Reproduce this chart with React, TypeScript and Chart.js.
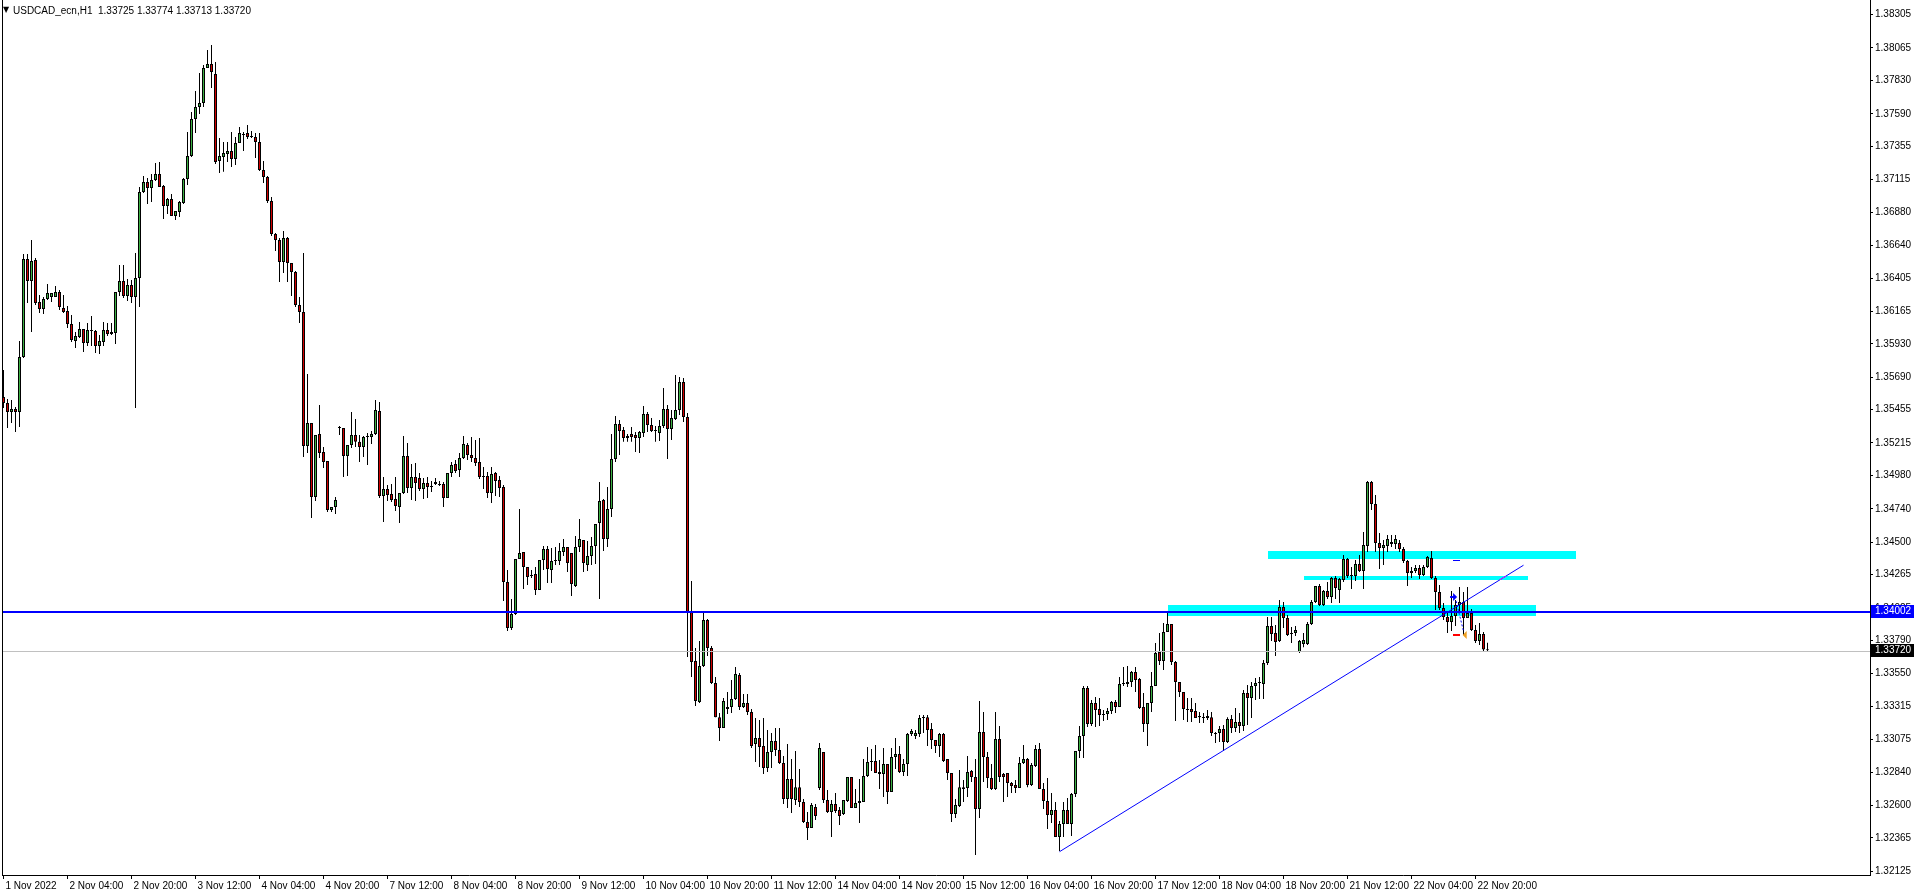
import React, { useEffect, useRef } from 'react';
import { Chart, registerables } from 'chart.js';

Chart.register(...registerables);

// ---------- data (USDCAD_ecn, H1) ----------
const SYMBOL = 'USDCAD_ecn,H1';

const OPEN = [
  1.35546,1.35503,1.35439,1.35460,1.35439,1.35835,1.36542,1.36384,1.36535,1.36233,1.36182,1.36254,
  1.36268,1.36268,1.36305,1.36189,1.36167,1.36073,1.35951,1.35979,1.36037,1.35936,1.36023,1.36023,
  1.35915,1.35944,1.36030,1.36016,1.36008,1.36305,1.36384,1.36276,1.36355,1.36268,1.36405,1.37026,
  1.37098,1.37054,1.37112,1.37156,1.37069,1.36925,1.36975,1.36853,1.36882,1.36946,1.37120,1.37286,
  1.37552,1.37639,1.37668,1.37920,1.37949,1.37877,1.37250,1.37278,1.37300,1.37322,1.37264,1.37379,
  1.37437,1.37451,1.37430,1.37422,1.37387,1.37185,1.37134,1.36961,1.36723,1.36680,1.36521,1.36694,
  1.36514,1.36449,1.36211,1.36160,1.35194,1.35359,1.34825,1.35280,1.35150,1.35085,1.34731,1.34753,
  1.35323,1.35323,1.35121,1.35201,1.35273,1.35223,1.35186,1.35258,1.35258,1.35280,1.35446,1.34833,
  1.34883,1.34847,1.34811,1.34753,1.34854,1.35121,1.34890,1.34969,1.34962,1.34883,1.34926,1.34905,
  1.34934,1.34919,1.34919,1.34818,1.34998,1.35063,1.35020,1.35106,1.35201,1.35128,1.35106,1.35078,
  1.34969,1.34977,1.34854,1.34998,1.34948,1.34897,1.34212,1.33880,1.33981,1.34378,1.34429,1.34320,
  1.34263,1.34270,1.34154,1.34371,1.34450,1.34299,1.34364,1.34364,1.34429,1.34465,1.34421,1.34183,
  1.34465,1.34515,1.34335,1.34400,1.34472,1.34637,1.34804,1.34522,1.34739,1.35099,1.35352,1.35309,
  1.35251,1.35280,1.35273,1.35251,1.35287,1.35424,1.35345,1.35309,1.35287,1.35338,1.35460,1.35316,
  1.35388,1.35453,1.35655,1.35402,1.33996,1.33642,1.33347,1.33606,1.33938,1.33735,1.33483,1.33237,
  1.33158,1.33295,1.33310,1.33368,1.33541,1.33310,1.33339,1.33274,1.33043,1.33086,1.33029,1.32870,
  1.32986,1.33065,1.33000,1.32906,1.32646,1.32791,1.32639,1.32732,1.32625,1.32481,1.32437,1.32588,
  1.32725,1.32986,1.32639,1.32553,1.32610,1.32567,1.32538,1.32632,1.32805,1.32581,1.32617,1.32625,
  1.32812,1.32921,1.32921,1.32842,1.32827,1.32899,1.32696,1.32950,1.32971,1.32842,1.32899,1.33115,
  1.33101,1.33115,1.33230,1.33237,1.33151,1.33072,1.33029,1.33115,1.32935,1.32834,1.32538,1.32596,
  1.32718,1.32725,1.32849,1.32805,1.32574,1.33130,1.32950,1.32798,1.32718,1.33079,1.32827,1.32834,
  1.32761,1.32747,1.32725,1.32906,1.32935,1.32747,1.32885,1.33007,1.32718,1.32632,1.32531,1.32567,
  1.32372,1.32466,1.32567,1.32466,1.32682,1.32993,1.33101,1.33447,1.33187,1.33339,1.33295,1.33259,
  1.33259,1.33281,1.33347,1.33310,1.33476,1.33476,1.33490,1.33563,1.33512,1.33310,1.33187,1.33339,
  1.33462,1.33707,1.33642,1.33852,1.33909,1.33635,1.33490,1.33419,1.33295,1.33295,1.33281,1.33237,
  1.33230,1.33230,1.33237,1.33122,1.33122,1.33151,1.33058,1.33223,1.33158,1.33202,1.33173,1.33411,
  1.33375,1.33462,1.33483,1.33476,1.33627,1.33895,1.33844,1.33786,1.34031,1.33952,1.33837,1.33844,
  1.33707,1.33764,1.33764,1.33909,1.34068,1.34183,1.34046,1.34147,1.34104,1.34241,1.34154,1.34226,
  1.34378,1.34256,1.34256,1.34342,1.34292,1.34472,1.34934,1.34775,1.34493,1.34457,1.34472,1.34501,
  1.34486,1.34493,1.34450,1.34364,1.34277,1.34292,1.34313,1.34263,1.34320,1.34385,1.34241,1.34140,
  1.34024,1.33960,1.33923,1.33967,1.34046,1.34068,1.33952,1.33988,1.33866,1.33786,1.33837,1.33725,
];

const HIGH = [
  1.35742,1.35532,1.35525,1.35474,1.35951,1.36578,1.36578,1.36680,1.36549,1.36283,1.36268,1.36362,
  1.36297,1.36348,1.36319,1.36283,1.36204,1.36138,1.36016,1.36088,1.36037,1.36080,1.36131,1.36030,
  1.35994,1.36088,1.36080,1.36080,1.36305,1.36499,1.36499,1.36398,1.36391,1.36585,1.37061,1.37142,
  1.37127,1.37156,1.37235,1.37243,1.37076,1.36982,1.37011,1.36889,1.36961,1.37127,1.37459,1.37603,
  1.37755,1.37884,1.37942,1.38050,1.38086,1.37964,1.37415,1.37387,1.37387,1.37459,1.37422,1.37494,
  1.37459,1.37509,1.37466,1.37451,1.37451,1.37250,1.37142,1.36989,1.36730,1.36694,1.36745,1.36701,
  1.36514,1.36456,1.36268,1.36585,1.35713,1.35359,1.35273,1.35489,1.35186,1.35085,1.34753,1.34825,
  1.35338,1.35323,1.35201,1.35439,1.35388,1.35273,1.35266,1.35287,1.35302,1.35525,1.35511,1.34969,
  1.34912,1.34919,1.34969,1.34854,1.35266,1.35215,1.35063,1.35070,1.34998,1.34962,1.34969,1.34941,
  1.34962,1.34941,1.34934,1.34998,1.35078,1.35092,1.35142,1.35266,1.35215,1.35258,1.35237,1.35251,
  1.35041,1.35006,1.35041,1.35006,1.34977,1.34912,1.34299,1.34089,1.34378,1.34739,1.34429,1.34320,
  1.34299,1.34320,1.34371,1.34472,1.34472,1.34457,1.34465,1.34493,1.34522,1.34465,1.34421,1.34544,
  1.34666,1.34515,1.34508,1.34536,1.34630,1.34934,1.34811,1.34897,1.35280,1.35410,1.35381,1.35330,
  1.35280,1.35330,1.35295,1.35302,1.35482,1.35439,1.35395,1.35338,1.35381,1.35611,1.35489,1.35453,
  1.35706,1.35691,1.35684,1.35431,1.34219,1.33735,1.33786,1.33988,1.33945,1.33750,1.33526,1.33266,
  1.33375,1.33419,1.33505,1.33598,1.33555,1.33404,1.33404,1.33295,1.33230,1.33216,1.33230,1.33144,
  1.33122,1.33158,1.33158,1.32957,1.33043,1.32935,1.32993,1.32863,1.32646,1.32553,1.32617,1.32610,
  1.33050,1.32986,1.32711,1.32639,1.32689,1.32588,1.32639,1.32805,1.32805,1.32718,1.32791,1.32935,
  1.33022,1.33007,1.33036,1.32928,1.33014,1.32899,1.33014,1.33086,1.33029,1.32935,1.33122,1.33151,
  1.33144,1.33252,1.33252,1.33252,1.33194,1.33072,1.33122,1.33122,1.32935,1.32834,1.32646,1.32856,
  1.32783,1.32957,1.32856,1.32935,1.33354,1.33274,1.32986,1.32899,1.33274,1.33173,1.32834,1.32834,
  1.32769,1.32783,1.32950,1.33036,1.32942,1.32906,1.33036,1.33050,1.32761,1.32798,1.32689,1.32625,
  1.32488,1.32625,1.32653,1.32689,1.32993,1.33173,1.33462,1.33462,1.33361,1.33382,1.33375,1.33288,
  1.33303,1.33354,1.33361,1.33526,1.33598,1.33606,1.33570,1.33598,1.33519,1.33411,1.33339,1.33563,
  1.33771,1.33844,1.33916,1.33988,1.33909,1.33642,1.33490,1.33419,1.33375,1.33375,1.33339,1.33274,
  1.33266,1.33288,1.33274,1.33130,1.33173,1.33180,1.33237,1.33252,1.33303,1.33266,1.33433,1.33469,
  1.33490,1.33519,1.33526,1.33649,1.33960,1.33960,1.33902,1.34082,1.34068,1.33974,1.33887,1.33895,
  1.33793,1.33844,1.33923,1.34082,1.34183,1.34197,1.34154,1.34212,1.34248,1.34256,1.34241,1.34407,
  1.34385,1.34320,1.34371,1.34407,1.34573,1.34941,1.34941,1.34840,1.34566,1.34515,1.34551,1.34551,
  1.34551,1.34515,1.34465,1.34371,1.34320,1.34335,1.34335,1.34335,1.34400,1.34436,1.34256,1.34190,
  1.34060,1.33996,1.34147,1.34082,1.34176,1.34140,1.34176,1.34017,1.33902,1.33916,1.33852,1.33774,
];

const LOW = [
  1.35467,1.35323,1.35359,1.35295,1.35330,1.35828,1.36225,1.36016,1.36211,1.36152,1.36145,1.36247,
  1.36233,1.36268,1.36174,1.36152,1.36044,1.35944,1.35900,1.35972,1.35872,1.35915,1.35915,1.35864,
  1.35857,1.35915,1.35987,1.35994,1.35929,1.36276,1.36261,1.36240,1.36225,1.35467,1.36196,1.37018,
  1.36939,1.36954,1.37105,1.37061,1.36831,1.36867,1.36853,1.36824,1.36845,1.36939,1.37076,1.37278,
  1.37451,1.37588,1.37639,1.37920,1.37776,1.37228,1.37163,1.37171,1.37243,1.37206,1.37221,1.37379,
  1.37322,1.37408,1.37415,1.37271,1.37178,1.37090,1.36946,1.36709,1.36600,1.36377,1.36441,1.36377,
  1.36276,1.36196,1.36080,1.35113,1.35142,1.34673,1.34797,1.35106,1.35034,1.34717,1.34717,1.34702,
  1.35273,1.34969,1.34977,1.35179,1.35186,1.35078,1.35113,1.35056,1.35208,1.35273,1.34818,1.34645,
  1.34797,1.34790,1.34724,1.34637,1.34847,1.34854,1.34804,1.34797,1.34869,1.34811,1.34818,1.34862,
  1.34912,1.34905,1.34753,1.34818,1.34969,1.34998,1.34969,1.35099,1.35092,1.35078,1.35049,1.34955,
  1.34883,1.34818,1.34782,1.34833,1.34825,1.34075,1.33859,1.33866,1.33974,1.34378,1.34161,1.34190,
  1.34241,1.34118,1.34154,1.34299,1.34204,1.34204,1.34335,1.34335,1.34400,1.34285,1.34111,1.34176,
  1.34429,1.34285,1.34292,1.34335,1.34342,1.34089,1.34436,1.34465,1.34681,1.35078,1.35128,1.35223,
  1.35223,1.35223,1.35150,1.35142,1.35258,1.35295,1.35295,1.35223,1.35230,1.35323,1.35099,1.35237,
  1.35381,1.35417,1.35367,1.33670,1.33526,1.33318,1.33339,1.33598,1.33678,1.33476,1.33237,1.33065,
  1.33158,1.33259,1.33266,1.33361,1.33288,1.33303,1.33252,1.33014,1.32914,1.32878,1.32827,1.32842,
  1.32870,1.32957,1.32899,1.32610,1.32581,1.32545,1.32603,1.32588,1.32473,1.32351,1.32437,1.32495,
  1.32711,1.32617,1.32545,1.32372,1.32545,1.32459,1.32531,1.32625,1.32581,1.32581,1.32473,1.32625,
  1.32805,1.32849,1.32834,1.32718,1.32660,1.32610,1.32696,1.32863,1.32834,1.32812,1.32812,1.33101,
  1.33079,1.33093,1.33122,1.33029,1.33007,1.32978,1.32950,1.32914,1.32783,1.32481,1.32509,1.32588,
  1.32625,1.32660,1.32769,1.32242,1.32509,1.32769,1.32725,1.32711,1.32711,1.32769,1.32625,1.32660,
  1.32689,1.32689,1.32725,1.32899,1.32732,1.32740,1.32878,1.32718,1.32574,1.32430,1.32473,1.32372,
  1.32271,1.32372,1.32466,1.32380,1.32660,1.32942,1.32942,1.33166,1.33173,1.33166,1.33173,1.33209,
  1.33216,1.33259,1.33266,1.33310,1.33462,1.33454,1.33454,1.33419,1.33295,1.33130,1.33029,1.33274,
  1.33462,1.33613,1.33577,1.33852,1.33613,1.33209,1.33382,1.33216,1.33202,1.33202,1.33230,1.33194,
  1.33194,1.33216,1.33101,1.33050,1.33058,1.32993,1.33050,1.33122,1.33130,1.33122,1.33137,1.33180,
  1.33230,1.33361,1.33368,1.33368,1.33613,1.33786,1.33678,1.33779,1.33880,1.33822,1.33771,1.33822,
  1.33699,1.33742,1.33757,1.33902,1.34060,1.34039,1.34039,1.34089,1.34060,1.34089,1.34060,1.34212,
  1.34241,1.34161,1.34219,1.34285,1.34161,1.34429,1.34731,1.34429,1.34306,1.34335,1.34429,1.34465,
  1.34450,1.34429,1.34349,1.34183,1.34241,1.34277,1.34234,1.34256,1.34313,1.34234,1.34010,1.34010,
  1.33938,1.33844,1.33859,1.33895,1.33988,1.33830,1.33952,1.33859,1.33771,1.33757,1.33707,1.33713,
];

const CLOSE = [
  1.35503,1.35439,1.35460,1.35439,1.35835,1.36542,1.36384,1.36528,1.36225,1.36182,1.36254,1.36297,
  1.36297,1.36305,1.36196,1.36160,1.36073,1.35958,1.35987,1.36037,1.35936,1.36030,1.36023,1.35915,
  1.35951,1.36030,1.36001,1.36001,1.36305,1.36384,1.36276,1.36355,1.36268,1.36405,1.37026,1.37098,
  1.37054,1.37112,1.37156,1.37061,1.36925,1.36975,1.36853,1.36889,1.36954,1.37120,1.37286,1.37552,
  1.37639,1.37668,1.37920,1.37949,1.37892,1.37243,1.37286,1.37307,1.37322,1.37264,1.37379,1.37451,
  1.37444,1.37422,1.37422,1.37387,1.37185,1.37134,1.36961,1.36723,1.36680,1.36521,1.36694,1.36514,
  1.36449,1.36211,1.36160,1.35194,1.35359,1.34825,1.35273,1.35142,1.35078,1.34731,1.34753,1.34804,
  1.35330,1.35121,1.35201,1.35273,1.35223,1.35186,1.35258,1.35266,1.35280,1.35453,1.34833,1.34883,
  1.34840,1.34804,1.34761,1.34854,1.35121,1.34890,1.34969,1.34926,1.34883,1.34926,1.34897,1.34897,
  1.34919,1.34912,1.34818,1.34998,1.35056,1.35013,1.35106,1.35208,1.35128,1.35106,1.35070,1.34969,
  1.34977,1.34854,1.34991,1.34941,1.34890,1.34212,1.33880,1.33981,1.34378,1.34421,1.34320,1.34248,
  1.34256,1.34154,1.34371,1.34450,1.34306,1.34364,1.34364,1.34436,1.34465,1.34349,1.34197,1.34465,
  1.34522,1.34349,1.34400,1.34472,1.34630,1.34797,1.34522,1.34739,1.35099,1.35352,1.35302,1.35251,
  1.35266,1.35258,1.35251,1.35295,1.35424,1.35345,1.35302,1.35302,1.35338,1.35460,1.35316,1.35395,
  1.35453,1.35655,1.35402,1.33996,1.33635,1.33354,1.33606,1.33938,1.33735,1.33483,1.33237,1.33158,
  1.33354,1.33310,1.33368,1.33548,1.33310,1.33339,1.33274,1.33029,1.33086,1.33022,1.32870,1.32986,
  1.33065,1.33000,1.32906,1.32646,1.32791,1.32646,1.32732,1.32625,1.32481,1.32437,1.32603,1.32524,
  1.33014,1.32639,1.32553,1.32610,1.32560,1.32524,1.32639,1.32805,1.32581,1.32617,1.32632,1.32812,
  1.32914,1.32914,1.32834,1.32827,1.32899,1.32696,1.32950,1.32971,1.32842,1.32899,1.33115,1.33137,
  1.33122,1.33230,1.33237,1.33144,1.33072,1.33029,1.33115,1.32921,1.32834,1.32538,1.32603,1.32732,
  1.32732,1.32842,1.32805,1.32574,1.33130,1.32950,1.32798,1.32718,1.33079,1.32805,1.32805,1.32761,
  1.32740,1.32725,1.32906,1.32935,1.32747,1.32892,1.33007,1.32718,1.32632,1.32531,1.32567,1.32372,
  1.32466,1.32567,1.32466,1.32682,1.32993,1.33101,1.33447,1.33187,1.33339,1.33288,1.33252,1.33252,
  1.33281,1.33347,1.33310,1.33476,1.33483,1.33490,1.33563,1.33505,1.33303,1.33187,1.33339,1.33462,
  1.33699,1.33642,1.33852,1.33909,1.33635,1.33490,1.33419,1.33295,1.33288,1.33274,1.33230,1.33245,
  1.33237,1.33245,1.33122,1.33115,1.33151,1.33058,1.33223,1.33158,1.33202,1.33173,1.33411,1.33375,
  1.33462,1.33483,1.33490,1.33627,1.33895,1.33837,1.33779,1.34031,1.33952,1.33830,1.33844,1.33866,
  1.33786,1.33793,1.33909,1.34068,1.34183,1.34046,1.34147,1.34104,1.34241,1.34168,1.34234,1.34378,
  1.34256,1.34263,1.34342,1.34292,1.34479,1.34934,1.34775,1.34493,1.34457,1.34479,1.34522,1.34486,
  1.34522,1.34450,1.34364,1.34277,1.34292,1.34313,1.34263,1.34320,1.34393,1.34241,1.34140,1.34024,
  1.33960,1.33923,1.33967,1.34046,1.34068,1.33952,1.33988,1.33866,1.33786,1.33837,1.33725,1.33720,
];

// time-axis labels (every 16 bars, first bar = 1 Nov 12:00)
const X_LABEL_BARS = [0,16,32,48,64,80,96,112,128,144,160,176,192,208,224,240,256,272,288,304,320,336,352,368];
const X_LABELS = [
  '1 Nov 2022','2 Nov 04:00','2 Nov 20:00','3 Nov 12:00','4 Nov 04:00','4 Nov 20:00',
  '7 Nov 12:00','8 Nov 04:00','8 Nov 20:00','9 Nov 12:00','10 Nov 04:00','10 Nov 20:00',
  '11 Nov 12:00','14 Nov 04:00','14 Nov 20:00','15 Nov 12:00','16 Nov 04:00','16 Nov 20:00',
  '17 Nov 12:00','18 Nov 04:00','18 Nov 20:00','21 Nov 12:00','22 Nov 04:00','22 Nov 20:00',
];

// price-axis tick labels
const Y_TICKS = [
  1.38305,1.38065,1.37830,1.37590,1.37355,1.37115,1.36880,1.36640,1.36405,1.36165,
  1.35930,1.35690,1.35455,1.35215,1.34980,1.34740,1.34500,1.34265,1.34025,1.33790,
  1.33550,1.33315,1.33075,1.32840,1.32600,1.32365,1.32125,
];
const PRICE_MAX = 1.38411;
const PRICE_MIN = 1.32098;

// horizontal lines
const HLINE_PRICE = 1.34002;
const BID_PRICE = 1.33720;

// rectangles (bar index from/to, price high/low)
const ZONE_FROM = [291, 316, 325];
const ZONE_TO = [383, 393, 381];
const ZONE_HIGH = [1.34046, 1.34436, 1.34256];
const ZONE_LOW = [1.33967, 1.34378, 1.34226];

// trend line (bar index, price)
const TREND_BARS = [264, 380];
const TREND_PRICES = [1.32266, 1.34333];

// trade markers: open (buy arrow), close (triangle), stop & target dashes
const TRADE_BARS = [362.4, 365.3];
const TRADE_PRICES = [1.34103, 1.33830];
const SL_PRICE = 1.33830;
const TP_PRICE = 1.34372;
const LEVEL_BAR = 363;

const BULL = '#3cb043';
const BEAR = '#d00000';
const FONT = '"Liberation Sans", Arial, sans-serif';

export default function App() {
  const ref = useRef<HTMLCanvasElement | null>(null);

  useEffect(() => {
    document.body.style.margin = '0';
    const canvas = ref.current;
    if (!canvas) return;
    const n = OPEN.length;
    const bodies: any[] = [];
    const wicks: any[] = [];
    const colors: string[] = [];
    for (let i = 0; i < n; i++) {
      bodies.push({ x: i, y: [OPEN[i], CLOSE[i]] });
      wicks.push({ x: i, y: [LOW[i], HIGH[i]] });
      colors.push(CLOSE[i] > OPEN[i] ? BULL : CLOSE[i] < OPEN[i] ? BEAR : '#000000');
    }

    const overlay = {
      id: 'overlay',
      beforeDatasetsDraw(chart: any) {
        const { ctx, chartArea: a } = chart;
        const xs = chart.scales.x;
        const ys = chart.scales.y;
        ctx.save();
        ctx.beginPath();
        ctx.rect(a.left, a.top, a.right - a.left, a.bottom - a.top);
        ctx.clip();
        ctx.fillStyle = '#00ffff';
        for (let k = 0; k < ZONE_FROM.length; k++) {
          const x0 = Math.round(xs.getPixelForValue(ZONE_FROM[k]));
          const x1 = Math.round(xs.getPixelForValue(ZONE_TO[k]));
          const y0 = Math.round(ys.getPixelForValue(ZONE_HIGH[k]));
          const y1 = Math.round(ys.getPixelForValue(ZONE_LOW[k]));
          ctx.fillRect(x0, y0, x1 - x0, y1 - y0);
        }
        ctx.restore();
      },
      afterDatasetsDraw(chart: any) {
        const { ctx, chartArea: a } = chart;
        const xs = chart.scales.x;
        const ys = chart.scales.y;
        ctx.save();
        ctx.beginPath();
        ctx.rect(a.left, a.top, a.right - a.left, a.bottom - a.top);
        ctx.clip();
        // bid line
        ctx.fillStyle = '#c0c0c0';
        ctx.fillRect(a.left, Math.ceil(ys.getPixelForValue(BID_PRICE)), a.right - a.left, 1);
        // horizontal level
        ctx.fillStyle = '#0000ff';
        ctx.fillRect(a.left, Math.round(ys.getPixelForValue(HLINE_PRICE)), a.right - a.left, 2);
        // trend line
        const tx0 = xs.getPixelForValue(TREND_BARS[0]);
        const ty0 = ys.getPixelForValue(TREND_PRICES[0]);
        const tx1 = xs.getPixelForValue(TREND_BARS[1]);
        const ty1 = ys.getPixelForValue(TREND_PRICES[1]);
        ctx.strokeStyle = '#0000ff';
        ctx.lineWidth = 1;
        ctx.beginPath();
        ctx.moveTo(tx0, ty0);
        ctx.lineTo(tx1, ty1);
        ctx.stroke();
        // part of trend line over the middle zone drawn in magenta
        ctx.save();
        const mz0 = Math.round(ys.getPixelForValue(ZONE_HIGH[2]));
        const mz1 = Math.round(ys.getPixelForValue(ZONE_LOW[2]));
        const mx1 = Math.round(xs.getPixelForValue(ZONE_TO[2]));
        ctx.beginPath();
        ctx.rect(a.left, mz0, mx1 - a.left, mz1 - mz0);
        ctx.clip();
        ctx.strokeStyle = '#ff00ff';
        ctx.beginPath();
        ctx.moveTo(tx0, ty0);
        ctx.lineTo(tx1, ty1);
        ctx.stroke();
        ctx.restore();

        // trade markers
        const ox = xs.getPixelForValue(TRADE_BARS[0]);
        const oy = ys.getPixelForValue(TRADE_PRICES[0]);
        const cx = xs.getPixelForValue(TRADE_BARS[1]);
        const cy = ys.getPixelForValue(TRADE_PRICES[1]);
        ctx.strokeStyle = '#0000ff';
        ctx.setLineDash([2, 2]);
        ctx.beginPath();
        ctx.moveTo(ox + 3, oy + 4);
        ctx.lineTo(cx - 1, cy - 3);
        ctx.stroke();
        ctx.setLineDash([]);
        // buy arrow
        ctx.fillStyle = '#0000ff';
        ctx.beginPath();
        ctx.moveTo(ox - 3, oy - 1);
        ctx.lineTo(ox, oy - 1);
        ctx.lineTo(ox, oy - 4);
        ctx.lineTo(ox + 4, oy);
        ctx.lineTo(ox, oy + 4);
        ctx.lineTo(ox, oy + 1);
        ctx.lineTo(ox - 3, oy + 1);
        ctx.closePath();
        ctx.fill();
        // close triangle
        ctx.fillStyle = '#f0a020';
        ctx.beginPath();
        ctx.moveTo(cx - 2, cy);
        ctx.lineTo(cx + 2, cy - 4);
        ctx.lineTo(cx + 2, cy + 4);
        ctx.closePath();
        ctx.fill();
        // stop / target dashes
        const lx = Math.round(xs.getPixelForValue(LEVEL_BAR)) - 3;
        ctx.fillStyle = '#ff0000';
        ctx.fillRect(lx, Math.round(ys.getPixelForValue(SL_PRICE)) - 1, 7, 2);
        ctx.fillStyle = '#0000ff';
        ctx.fillRect(lx, Math.round(ys.getPixelForValue(TP_PRICE)), 7, 1);
        ctx.restore();
      },
      afterDraw(chart: any) {
        const { ctx, chartArea: a } = chart;
        const ys = chart.scales.y;
        ctx.save();
        // left frame
        ctx.fillStyle = '#000';
        ctx.fillRect(a.left, a.top, 1, a.bottom - a.top);
        // price boxes on the axis
        const box = (price: number, bg: string) => {
          const y = Math.round(ys.getPixelForValue(price));
          ctx.fillStyle = bg;
          ctx.fillRect(a.right + 1, y - 6, 43, 13);
          ctx.fillStyle = '#ffffff';
          ctx.font = '10px ' + FONT;
          ctx.textAlign = 'left';
          ctx.textBaseline = 'middle';
          ctx.fillText(price.toFixed(5), a.right + 5, y + 0.5);
        };
        box(HLINE_PRICE, '#0000ff');
        box(BID_PRICE, '#000000');
        // title
        const last = n - 1;
        ctx.fillStyle = '#000';
        ctx.textBaseline = 'middle';
        ctx.textAlign = 'left';
        ctx.font = '8px "DejaVu Sans", sans-serif';
        ctx.fillText('\u25BC', 3, 10);
        ctx.font = '10px ' + FONT;
        ctx.fillText(
          SYMBOL + '  ' + OPEN[last].toFixed(5) + ' ' + HIGH[last].toFixed(5) + ' ' +
            LOW[last].toFixed(5) + ' ' + CLOSE[last].toFixed(5),
          13, 11
        );
        ctx.restore();
      },
    };

    const chart = new Chart(canvas, {
      type: 'bar',
      data: {
        datasets: [
          {
            data: bodies,
            backgroundColor: colors,
            borderColor: '#000000',
            borderWidth: 1,
            borderSkipped: false,
            barThickness: 3,
            minBarLength: 1,
            grouped: false,
            inflateAmount: 0,
            order: 1,
          } as any,
          {
            data: wicks,
            backgroundColor: '#000000',
            borderWidth: 0,
            barThickness: 1,
            grouped: false,
            inflateAmount: 0,
            order: 2,
          } as any,
        ],
      },
      options: {
        animation: false,
        responsive: false,
        devicePixelRatio: 1,
        events: [],
        layout: { padding: { left: 2, top: 0, right: 0, bottom: 0 } },
        plugins: {
          legend: { display: false },
          tooltip: { enabled: false },
          title: { display: false },
        },
        scales: {
          x: {
            type: 'linear',
            min: -0.375,
            max: 466.625,
            offset: false,
            afterBuildTicks: (s: any) => {
              s.ticks = X_LABEL_BARS.map((v) => ({ value: v }));
            },
            afterFit: (s: any) => {
              s.height = 21;
              s.paddingLeft = 0;
              s.paddingRight = 0;
              s.paddingTop = 0;
              s.paddingBottom = 0;
            },
            grid: { display: true, drawOnChartArea: false, drawTicks: true, tickLength: 4, color: '#000000', offset: false },
            border: { display: true, color: '#000000' },
            ticks: {
              autoSkip: false,
              maxRotation: 0,
              minRotation: 0,
              align: 'start',
              padding: 1,
              labelOffset: 2,
              color: '#000000',
              font: { family: FONT, size: 10 },
              callback: (_v: any, i: number) => X_LABELS[i],
            },
          },
          y: {
            type: 'linear',
            position: 'right',
            min: PRICE_MIN,
            max: PRICE_MAX,
            bounds: 'data',
            afterBuildTicks: (s: any) => {
              s.ticks = Y_TICKS.map((v) => ({ value: v }));
            },
            afterFit: (s: any) => {
              s.width = 46;
              s.paddingLeft = 0;
              s.paddingRight = 0;
              s.paddingTop = 0;
              s.paddingBottom = 0;
            },
            grid: { display: true, drawOnChartArea: false, drawTicks: true, tickLength: 3, color: '#000000' },
            border: { display: true, color: '#000000' },
            ticks: {
              autoSkip: false,
              padding: 2,
              color: '#000000',
              font: { family: FONT, size: 10 },
              callback: (v: any) => Number(v).toFixed(5),
            },
          },
        },
      } as any,
      plugins: [overlay],
    });

    return () => chart.destroy();
  }, []);

  return (
    <div style={{ width: 1916, height: 896, background: '#ffffff', overflow: 'hidden' }}>
      <canvas ref={ref} width={1916} height={896} style={{ display: 'block', width: 1916, height: 896 }} />
    </div>
  );
}
